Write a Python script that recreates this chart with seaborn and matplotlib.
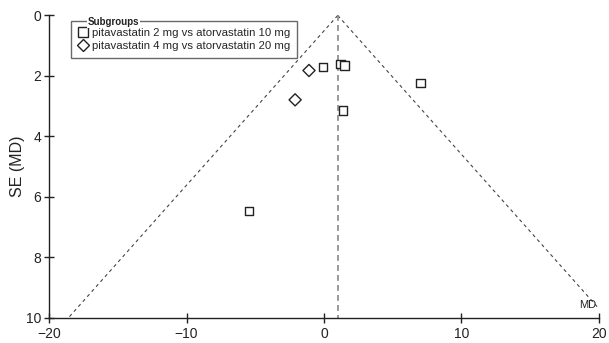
import matplotlib
matplotlib.use("Agg")
import matplotlib.pyplot as plt
import seaborn as sns
import numpy as np
import pandas as pd
from matplotlib.lines import Line2D

# Data
subgroups = ["pitavastatin 2 mg vs atorvastatin 10 mg",
             "pitavastatin 4 mg vs atorvastatin 20 mg"]
md_g1 = [-5.45, -0.07, 1.2, 1.5, 1.39, 7.04]
se_g1 = [6.47, 1.71, 1.6, 1.66, 3.14, 2.24]
md_g2 = [-1.09, -2.1]
se_g2 = [1.82, 2.79]
pooled_md = 1.0
se_max = 10
x_ticks = [-20, -10, 0, 10, 20]
y_ticks = [0, 2, 4, 6, 8, 10]

df = pd.DataFrame({
    "MD": md_g1 + md_g2,
    "SE": se_g1 + se_g2,
    "Subgroup": [subgroups[0]] * len(md_g1) + [subgroups[1]] * len(md_g2),
})

sns.set_theme(style="ticks")
plt.rcParams['font.family'] = ['Liberation Sans', 'DejaVu Sans']

fig = plt.figure(figsize=(6.09, 3.43), dpi=100)
ax = fig.add_axes([0.0805, 0.073, 0.903, 0.882])

# funnel lines
se_line = np.array([0, se_max])
ax.plot(pooled_md - 1.96 * se_line, se_line, ls=(0, (3, 3)), color="#444444", lw=0.8)
ax.plot(pooled_md + 1.96 * se_line, se_line, ls=(0, (3, 3)), color="#444444", lw=0.8)
ax.plot([pooled_md, pooled_md], [0, se_max], ls=(0, (3.5, 2.5)), color="#888888", lw=1.2)

sns.scatterplot(data=df, x="MD", y="SE", style="Subgroup",
                markers={subgroups[0]: "s", subgroups[1]: "D"},
                facecolor="white", edgecolor="#222222", linewidth=1.0,
                s=38, ax=ax, legend=False, zorder=3)

ax.set_xlim(-20, 20)
ax.set_ylim(se_max, 0)
ax.set_xticks(x_ticks)
ax.set_yticks(y_ticks)
ax.set_xticklabels([f"{t}".replace("-", "\u2212") for t in x_ticks])
ax.set_xlabel("")
ax.set_ylabel("SE (MD)", fontsize=11.5, color="#222222")
ax.yaxis.set_label_coords(-0.044, 0.5)
ax.tick_params(axis="both", direction="inout", length=7, width=1.0,
               color="#222222", labelsize=10, labelcolor="#222222", pad=2,
               bottom=True, left=True)
ax.tick_params(axis="x", pad=3)
for s in ["top", "right"]:
    ax.spines[s].set_visible(False)
for s in ["left", "bottom"]:
    ax.spines[s].set_color("#222222")
    ax.spines[s].set_linewidth(1.0)

ax.text(19.8, 9.75, "MD", fontsize=8, ha="right", va="bottom", color="#222222")

handles = [
    Line2D([], [], marker="s", ls="", mfc="white", mec="#222222", ms=6.5, mew=1.0),
    Line2D([], [], marker="D", ls="", mfc="white", mec="#222222", ms=6.5, mew=1.0),
]
leg = ax.legend(handles, subgroups, loc="upper left", bbox_to_anchor=(0.04, 0.98),
                fontsize=8.2, frameon=True, fancybox=False, edgecolor="#444444",
                borderpad=0.6, handletextpad=0.3, handlelength=0.9,
                labelspacing=0.25, borderaxespad=0)
leg.get_frame().set_linewidth(1.0)
ax.text(0.07, 0.978, "Subgroups", transform=ax.transAxes, fontsize=7,
        fontweight="bold", ha="left", va="center", color="#222222",
        bbox=dict(facecolor="white", edgecolor="none", pad=0.5), zorder=10)

fig.savefig("out.png", dpi=100)
